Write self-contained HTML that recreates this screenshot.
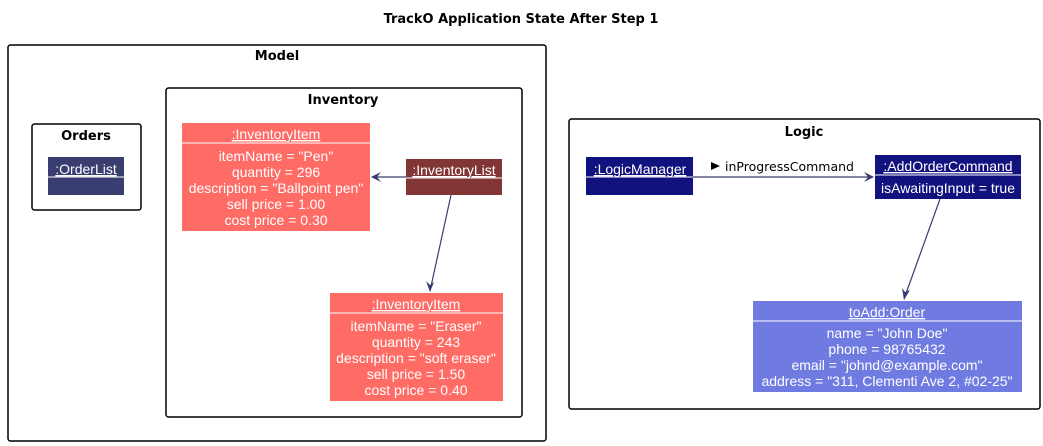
<!DOCTYPE html>
<html><head><meta charset="utf-8"><style>
html,body{margin:0;padding:0;background:#fff;}
svg{display:block;}
.t{font-family:"DejaVu Sans","Liberation Sans",sans-serif;font-weight:bold;font-size:13px;fill:#000;}
.a{font-family:"Liberation Sans",sans-serif;font-size:14px;fill:#fff;}
.l{font-family:"DejaVu Sans","Liberation Sans",sans-serif;font-size:12.5px;fill:#000;}
</style></head><body>
<svg width="1043" height="446" viewBox="0 0 1043 446" xmlns="http://www.w3.org/2000/svg">
<text class="t" x="521" y="23" text-anchor="middle">TrackO Application State After Step 1</text>
<g fill="none" stroke="#000" stroke-width="1.5">
<rect x="8" y="45" width="538" height="396" rx="2.5"/>
<rect x="32" y="124" width="109" height="86" rx="2.5"/>
<rect x="166" y="88" width="356" height="329" rx="2.5"/>
<rect x="569" y="119" width="471" height="290" rx="2.5"/>
</g>
<text class="t" x="277" y="60" text-anchor="middle">Model</text>
<text class="t" x="86" y="140" text-anchor="middle">Orders</text>
<text class="t" x="343" y="104" text-anchor="middle">Inventory</text>
<text class="t" x="804" y="136" text-anchor="middle">Logic</text>

<rect x="48" y="157" width="76" height="38" fill="#393d70"/>
<line x1="48" y1="177" x2="124" y2="177" stroke="#fff"/>
<text class="a" x="86" y="174" text-anchor="middle" text-decoration="underline">:OrderList</text>

<rect x="182" y="123" width="188" height="108" fill="#ff6b65"/>
<line x1="182" y1="143" x2="370" y2="143" stroke="#fff"/>
<text class="a" x="276" y="139" text-anchor="middle" text-decoration="underline">:InventoryItem</text>
<g class="a" text-anchor="middle">
<text x="276" y="161">itemName = "Pen"</text>
<text x="276" y="177">quantity = 296</text>
<text x="276" y="193">description = "Ballpoint pen"</text>
<text x="276" y="209">sell price = 1.00</text>
<text x="276" y="225">cost price = 0.30</text>
</g>

<rect x="406" y="159" width="96" height="36" fill="#813535"/>
<line x1="406" y1="178" x2="502" y2="178" stroke="#fff"/>
<text class="a" x="454" y="175" text-anchor="middle" text-decoration="underline">:InventoryList</text>

<rect x="330" y="293" width="173" height="108" fill="#ff6b65"/>
<line x1="330" y1="313" x2="503" y2="313" stroke="#fff"/>
<text class="a" x="416" y="309" text-anchor="middle" text-decoration="underline">:InventoryItem</text>
<g class="a" text-anchor="middle">
<text x="416" y="331">itemName = "Eraser"</text>
<text x="416" y="347">quantity = 243</text>
<text x="416" y="363">description = "soft eraser"</text>
<text x="416" y="379">sell price = 1.50</text>
<text x="416" y="395">cost price = 0.40</text>
</g>

<rect x="586" y="157" width="107" height="38" fill="#12127f"/>
<line x1="586" y1="177" x2="693" y2="177" stroke="#fff"/>
<text class="a" x="640" y="174" text-anchor="middle" text-decoration="underline">:LogicManager</text>

<rect x="875" y="155" width="146" height="44" fill="#12127f"/>
<line x1="875" y1="175" x2="1021" y2="175" stroke="#fff"/>
<text class="a" x="948" y="171" text-anchor="middle" text-decoration="underline">:AddOrderCommand</text>
<text class="a" x="948" y="193" text-anchor="middle">isAwaitingInput = true</text>

<rect x="753" y="301" width="269" height="91" fill="#707be2"/>
<line x1="753" y1="321" x2="1022" y2="321" stroke="#fff"/>
<text class="a" x="887" y="317" text-anchor="middle" text-decoration="underline">toAdd:Order</text>
<g class="a" text-anchor="middle">
<text x="887" y="338">name = "John Doe"</text>
<text x="887" y="354">phone = 98765432</text>
<text x="887" y="370">email = "johnd@example.com"</text>
<text x="887" y="386">address = "311, Clementi Ave 2, #02-25"</text>
</g>

<g stroke="#383d6e" stroke-width="1.2" fill="none">
<line x1="406" y1="177" x2="372" y2="177"/>
<line x1="451" y1="195" x2="430" y2="291"/>
<line x1="693" y1="177" x2="873" y2="177"/>
<line x1="940" y1="199" x2="904" y2="299"/>
</g>
<g fill="#383d6e">
<polygon points="371,177 381,172 377,177 381,182"/>
<polygon points="430,292 426,281 430,285 434,282"/>
<polygon points="874,177 864,172 868,177 864,182"/>
<polygon points="904,300 902,288 905,292 910,290"/>
</g>
<polygon points="711,162 711,170 720,166" fill="#000"/>
<text class="l" x="725" y="171">inProgressCommand</text>
</svg>
</body></html>
